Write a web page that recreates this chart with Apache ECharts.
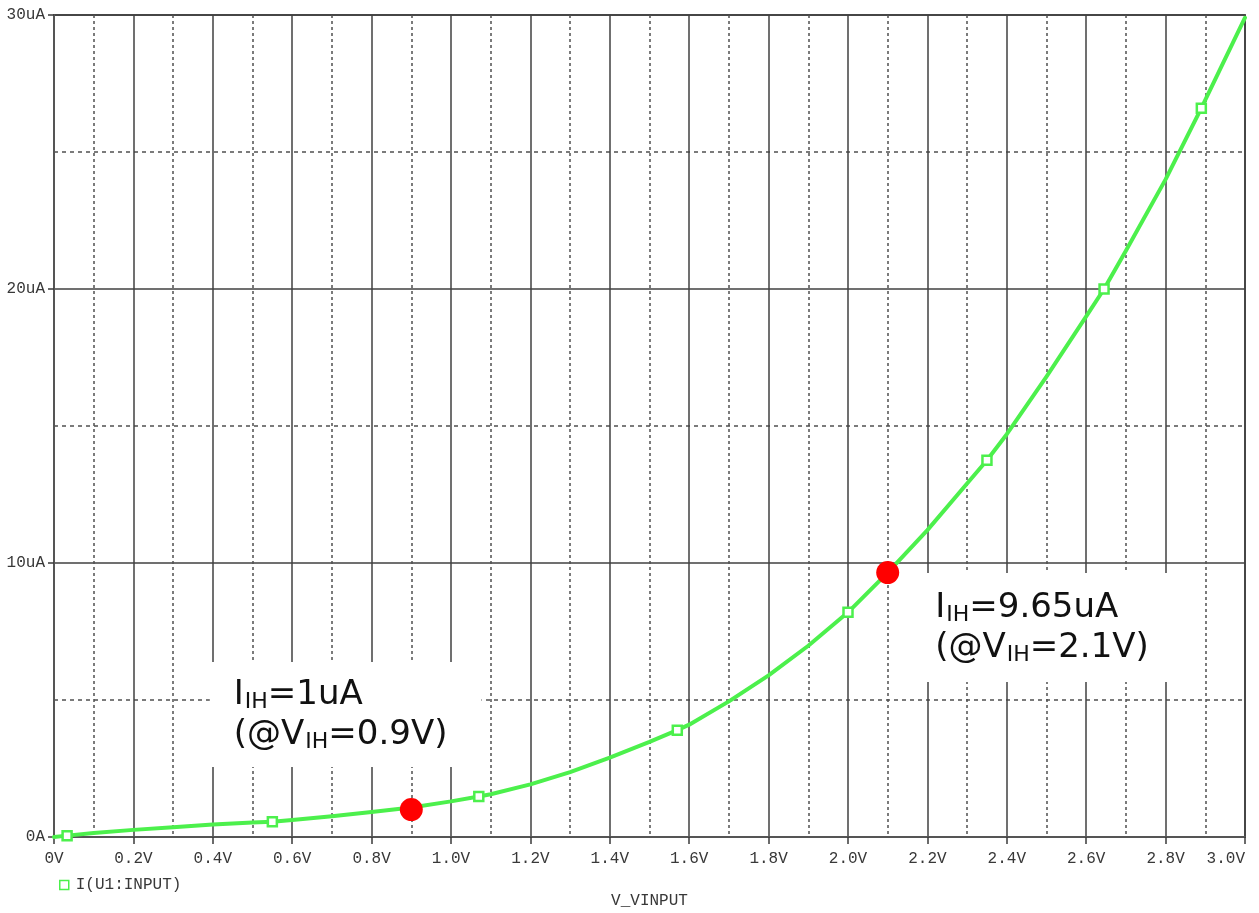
<!DOCTYPE html>
<html>
<head>
<meta charset="utf-8">
<script src="https://cdn.jsdelivr.net/npm/echarts@6/dist/echarts.min.js"></script>
<style>
  html, body { margin: 0; padding: 0; background: #ffffff; }
  #chart { width: 1259px; height: 913px; }
</style>
</head>
<body>
<div id="chart"></div>
<script>
// Input current of U1 vs. input voltage (DC sweep)
const voltage = [0, 0.033, 0.1, 0.2, 0.3, 0.4, 0.5, 0.55, 0.6, 0.7, 0.8, 0.9, 1.0, 1.07, 1.1, 1.2, 1.3, 1.4, 1.5, 1.57, 1.6, 1.7, 1.8, 1.9, 2.0, 2.1, 2.2, 2.3, 2.35, 2.4, 2.5, 2.6, 2.645, 2.7, 2.8, 2.89, 3.0];
const currentUA = [0, 0.05, 0.15, 0.26, 0.36, 0.46, 0.53, 0.56, 0.62, 0.76, 0.91, 1.08, 1.3, 1.48, 1.56, 1.92, 2.37, 2.9, 3.47, 3.9, 4.1, 4.95, 5.9, 6.98, 8.2, 9.65, 11.2, 12.9, 13.75, 14.7, 16.8, 19.0, 20.0, 21.4, 24.0, 26.6, 29.9];

// Trace marker positions (hollow squares along the trace)
const markerVoltage = [0.033, 0.55, 1.07, 1.57, 2.0, 2.35, 2.645, 2.89];
const markerCurrentUA = [0.05, 0.56, 1.48, 3.9, 8.2, 13.75, 20.0, 26.6];

// Highlighted operating points
const pointVoltage = [0.9, 2.1];
const pointCurrentUA = [1, 9.65];
const pointLabels = [
  '{m|I}{s|IH}{m|=1uA}\n{m|(@V}{s|IH}{m|=0.9V)}',
  '{m|I}{s|IH}{m|=9.65uA}\n{m|(@V}{s|IH}{m|=2.1V)}'
];

// Axis ranges and tick steps
const xRange = [0, 3.0];
const xStep = 0.2;
const yRange = [0, 30];
const yStep = 10;

const seriesName = 'I(U1:INPUT)';
const axisTitle = 'V_VINPUT';

const TRACE = '#4cf04c';
const MONO = '"Liberation Mono", "DejaVu Sans Mono", monospace';
const SANS = '"DejaVu Sans", Verdana, sans-serif';
const TEXT = '#383838';

const curve = voltage.map((v, i) => [v, currentUA[i]]);
const markers = markerVoltage.map((v, i) => [v, markerCurrentUA[i]]);

const labelStyles = [
  { position: [-190, -136], padding: [13, 34, 12, 24] },
  { position: [36, 12], padding: [15, 24, 14, 23] }
];

const points = pointVoltage.map((v, i) => ({
  value: [v, pointCurrentUA[i]],
  label: {
    show: true,
    formatter: pointLabels[i],
    position: labelStyles[i].position,
    align: 'left',
    verticalAlign: 'top',
    backgroundColor: '#ffffff',
    padding: labelStyles[i].padding,
    rich: {
      m: { fontFamily: SANS, fontSize: 34, color: '#111111', lineHeight: 40, verticalAlign: 'middle' },
      s: { fontFamily: SANS, fontSize: 22, color: '#111111', lineHeight: 40, verticalAlign: 'middle', padding: [15, 0, 0, 1] }
    }
  }
}));

const chart = echarts.init(document.getElementById('chart'), null, { renderer: 'canvas' });

chart.setOption({
  animation: false,
  backgroundColor: '#ffffff',
  grid: {
    left: 54, right: 14, top: 15, bottom: 76,
    outerBoundsMode: 'none',
    containLabel: false,
    show: true,
    borderColor: '#5a5a5a',
    borderWidth: 2
  },
  legend: {
    left: 54, top: 872,
    itemWidth: 9, itemHeight: 9,
    itemGap: 10,
    data: [{
      name: seriesName,
      icon: 'rect',
      itemStyle: { color: '#ffffff', borderColor: TRACE, borderWidth: 1.5 }
    }],
    textStyle: { fontFamily: MONO, fontSize: 16, color: TEXT, padding: [0, 0, 0, 2] }
  },
  xAxis: {
    type: 'value',
    min: xRange[0], max: xRange[1], interval: xStep,
    name: axisTitle,
    nameLocation: 'middle',
    nameGap: 56,
    nameTextStyle: { fontFamily: MONO, fontSize: 16, color: TEXT },
    axisLine: { show: true, lineStyle: { color: '#555', width: 2 } },
    axisTick: { show: true, inside: false, length: 7, lineStyle: { color: '#3a3a3a', width: 1.5 } },
    axisLabel: {
      margin: 14,
      fontFamily: MONO, fontSize: 16, color: TEXT,
      alignMaxLabel: 'right',
      formatter: v => (v === 0 ? '0V' : v.toFixed(1) + 'V')
    },
    splitLine: { show: true, lineStyle: { color: '#404040', width: 1.5 } },
    minorTick: { show: false, splitNumber: 2 },
    minorSplitLine: { show: true, lineStyle: { color: '#505050', width: 1.5, type: [3, 3] } }
  },
  yAxis: {
    type: 'value',
    min: yRange[0], max: yRange[1], interval: yStep,
    axisLine: { show: true, lineStyle: { color: '#555', width: 2 } },
    axisTick: { show: true, inside: false, length: 6, lineStyle: { color: '#3a3a3a', width: 1.5 } },
    axisLabel: {
      margin: 9,
      fontFamily: MONO, fontSize: 16, color: TEXT,
      formatter: v => (v === 0 ? '0A' : v + 'uA')
    },
    splitLine: { show: true, lineStyle: { color: '#404040', width: 1.5 } },
    minorTick: { show: false, splitNumber: 2 },
    minorSplitLine: { show: true, lineStyle: { color: '#505050', width: 1.5, type: [4, 4] } }
  },
  series: [
    {
      name: seriesName,
      type: 'line',
      data: curve,
      smooth: false,
      showSymbol: false,
      lineStyle: { color: TRACE, width: 4, join: 'round', cap: 'round' },
      itemStyle: { color: TRACE },
      emphasis: { disabled: true },
      z: 2
    },
    {
      type: 'scatter',
      data: markers,
      symbol: 'rect',
      symbolSize: 9,
      itemStyle: { color: '#ffffff', borderColor: TRACE, borderWidth: 2.5, opacity: 1 },
      emphasis: { disabled: true },
      z: 3
    },
    {
      type: 'scatter',
      data: points,
      symbol: 'circle',
      symbolSize: 23,
      itemStyle: { color: '#ff0000', opacity: 1 },
      emphasis: { disabled: true },
      z: 4
    }
  ]
});
</script>
</body>
</html>
